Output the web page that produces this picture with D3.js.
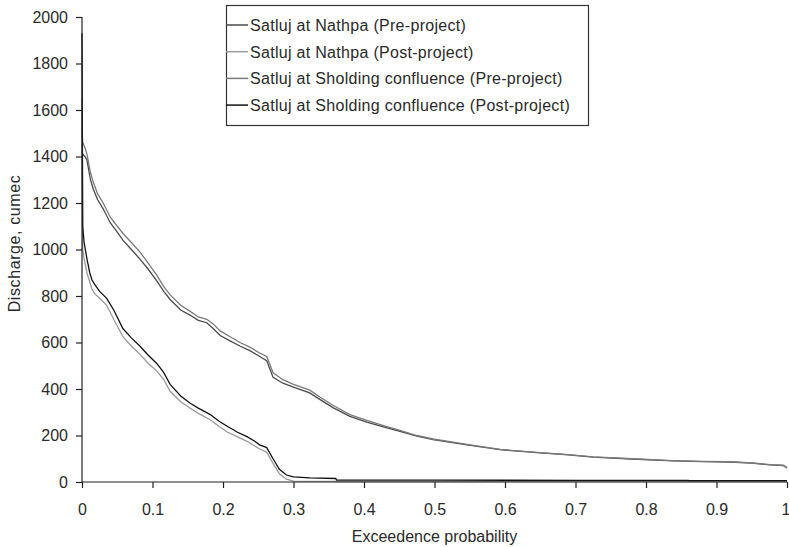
<!DOCTYPE html>
<html>
<head>
<meta charset="utf-8">
<script src="https://cdn.jsdelivr.net/npm/d3@7"></script>
<style>
  body { margin: 0; background: #fff; }
  text { font-family: "Liberation Sans", Arial, sans-serif; fill: #2a2a2a; }
  .axis path, .axis line { stroke: #222; stroke-width: 1.2; }
  .axis text { font-size: 16px; }
</style>
</head>
<body>
<div id="chart"></div>
<script>
// exceedence probability grids
const probUpper = [0, 0.001, 0.004, 0.007, 0.012, 0.016, 0.022, 0.03, 0.04, 0.05, 0.058, 0.07, 0.082, 0.094, 0.106, 0.116, 0.125, 0.14, 0.153, 0.165, 0.177, 0.186, 0.196, 0.21, 0.224, 0.238, 0.252, 0.262, 0.271, 0.285, 0.3, 0.323, 0.34, 0.356, 0.38, 0.404, 0.43, 0.451, 0.475, 0.498, 0.546, 0.593, 0.65, 0.69, 0.725, 0.78, 0.838, 0.88, 0.919, 0.95, 0.976, 0.995, 1];
const probLower = [0, 0.001, 0.003, 0.007, 0.011, 0.014, 0.018, 0.025, 0.035, 0.045, 0.058, 0.07, 0.082, 0.094, 0.106, 0.116, 0.125, 0.14, 0.153, 0.165, 0.182, 0.194, 0.206, 0.22, 0.234, 0.245, 0.252, 0.262, 0.271, 0.28, 0.29, 0.3, 0.323, 0.36, 0.361, 0.5, 0.7, 0.86, 0.861, 1];

// discharge, cumec
const nathpaPre = [1420, 1410, 1400, 1385, 1300, 1260, 1215, 1175, 1115, 1075, 1040, 1000, 960, 915, 865, 820, 785, 740, 718, 695, 685, 660, 630, 607, 585, 565, 540, 522, 450, 425, 408, 383, 350, 320, 282, 258, 235, 218, 197, 182, 160, 139, 125, 117, 107, 99, 91, 88, 86, 81, 74, 70, 60];
const sholdingPre = [1520, 1460, 1440, 1410, 1330, 1290, 1240, 1200, 1140, 1100, 1070, 1030, 990, 940, 890, 840, 805, 760, 735, 710, 700, 680, 650, 625, 600, 580, 555, 540, 470, 440, 420, 395, 360, 330, 290, 265, 240, 222, 200, 185, 162, 140, 126, 118, 108, 100, 92, 89, 87, 82, 75, 72, 62];
const nathpaPost = [1650, 1000, 960, 900, 860, 830, 810, 790, 760, 700, 625, 585, 550, 510, 478, 440, 390, 345, 318, 295, 268, 240, 215, 195, 175, 155, 142, 128, 80, 35, 12, 4, 3, 3, 2, 2, 2, 2, 2, 2];
const sholdingPost = [1930, 1100, 1030, 960, 900, 870, 850, 820, 790, 740, 660, 620, 585, 545, 510, 470, 420, 370, 340, 318, 290, 262, 240, 215, 195, 175, 160, 148, 100, 55, 30, 22, 18, 15, 8, 8, 7, 7, 6, 6];

const seriesNames = [
    "Satluj at Nathpa (Pre-project)",
    "Satluj at Nathpa (Post-project)",
    "Satluj at Sholding confluence (Pre-project)",
    "Satluj at Sholding confluence (Post-project)"
];
const seriesColors = ["#4a4a4a", "#9a9a9a", "#7a7a7a", "#111111"];

const xTicks = [0, 0.1, 0.2, 0.3, 0.4, 0.5, 0.6, 0.7, 0.8, 0.9, 1];
const yTicks = [0, 200, 400, 600, 800, 1000, 1200, 1400, 1600, 1800, 2000];

const margin = {top: 17, right: 2, bottom: 65, left: 82};
const width = 789 - margin.left - margin.right;
const height = 547 - margin.top - margin.bottom;

const svg = d3.select("#chart").append("svg")
    .attr("width", 789)
    .attr("height", 547)
    .append("g")
        .attr("transform", "translate(" + margin.left + "," + margin.top + ")");

const x = d3.scaleLinear().domain([0, 1]).range([0, width]);
const y = d3.scaleLinear().domain([0, 2000]).range([height, 0]);

const xAxis = d3.axisBottom(x)
    .tickValues(xTicks)
    .tickSize(6)
    .tickPadding(16)
    .tickFormat(d => d === 0 || d === 1 ? String(d) : d3.format(".1f")(d));

const yAxis = d3.axisLeft(y)
    .tickValues(yTicks)
    .tickSize(6)
    .tickPadding(8)
    .tickFormat(d3.format("d"));

const series = [
    {name: seriesNames[0], color: seriesColors[0], p: probUpper, q: nathpaPre},
    {name: seriesNames[1], color: seriesColors[1], p: probLower, q: nathpaPost},
    {name: seriesNames[2], color: seriesColors[2], p: probUpper, q: sholdingPre},
    {name: seriesNames[3], color: seriesColors[3], p: probLower, q: sholdingPost}
];

const valueline = d3.line()
    .x(d => x(d[0]))
    .y(d => y(d[1]));

series.forEach(s => {
    const pts = s.p.map((p, i) => [p, s.q[i]]);
    svg.append("path")
        .datum(pts)
        .attr("fill", "none")
        .attr("stroke", s.color)
        .attr("stroke-width", 1.3)
        .attr("d", valueline);
});

svg.append("g")
    .attr("class", "x axis")
    .attr("transform", "translate(0," + height + ")")
    .call(xAxis)
    .call(g => g.select(".domain").attr("d", "M0,0H" + width))
    // last label sits against the right edge of the page
    .call(g => g.selectAll(".tick text").filter(d => d === 1)
        .attr("text-anchor", "end").attr("dx", 3));

svg.append("g")
    .attr("class", "y axis")
    .call(yAxis)
    .call(g => g.select(".domain").attr("d", "M0," + height + "V0"));

// axis titles
svg.append("text")
    .attr("x", width / 2)
    .attr("y", height + 60)
    .attr("text-anchor", "middle")
    .style("font-size", "16px")
    .text("Exceedence probability");

svg.append("text")
    .attr("transform", "rotate(-90)")
    .attr("x", -(height / 2) + 6)
    .attr("y", -62)
    .attr("text-anchor", "middle")
    .style("font-size", "16px")
    .style("letter-spacing", "0.6px")
    .text("Discharge, cumec");

// legend
const legend = svg.append("g")
    .attr("transform", "translate(" + (226 - margin.left) + "," + (5 - margin.top) + ")");

legend.append("rect")
    .attr("x", 0.5)
    .attr("y", 0.5)
    .attr("width", 362)
    .attr("height", 120)
    .attr("fill", "#fff")
    .attr("stroke", "#333")
    .attr("stroke-width", 1.2);

series.forEach((s, i) => {
    const ly = 20 + i * 26.7;
    legend.append("line")
        .attr("x1", 0)
        .attr("x2", 22)
        .attr("y1", ly)
        .attr("y2", ly)
        .attr("stroke", s.color)
        .attr("stroke-width", 1.5);
    legend.append("text")
        .attr("x", 24)
        .attr("y", ly + 6)
        .style("font-size", "16px")
        .style("letter-spacing", "0.3px")
        .text(s.name);
});
</script>
</body>
</html>
